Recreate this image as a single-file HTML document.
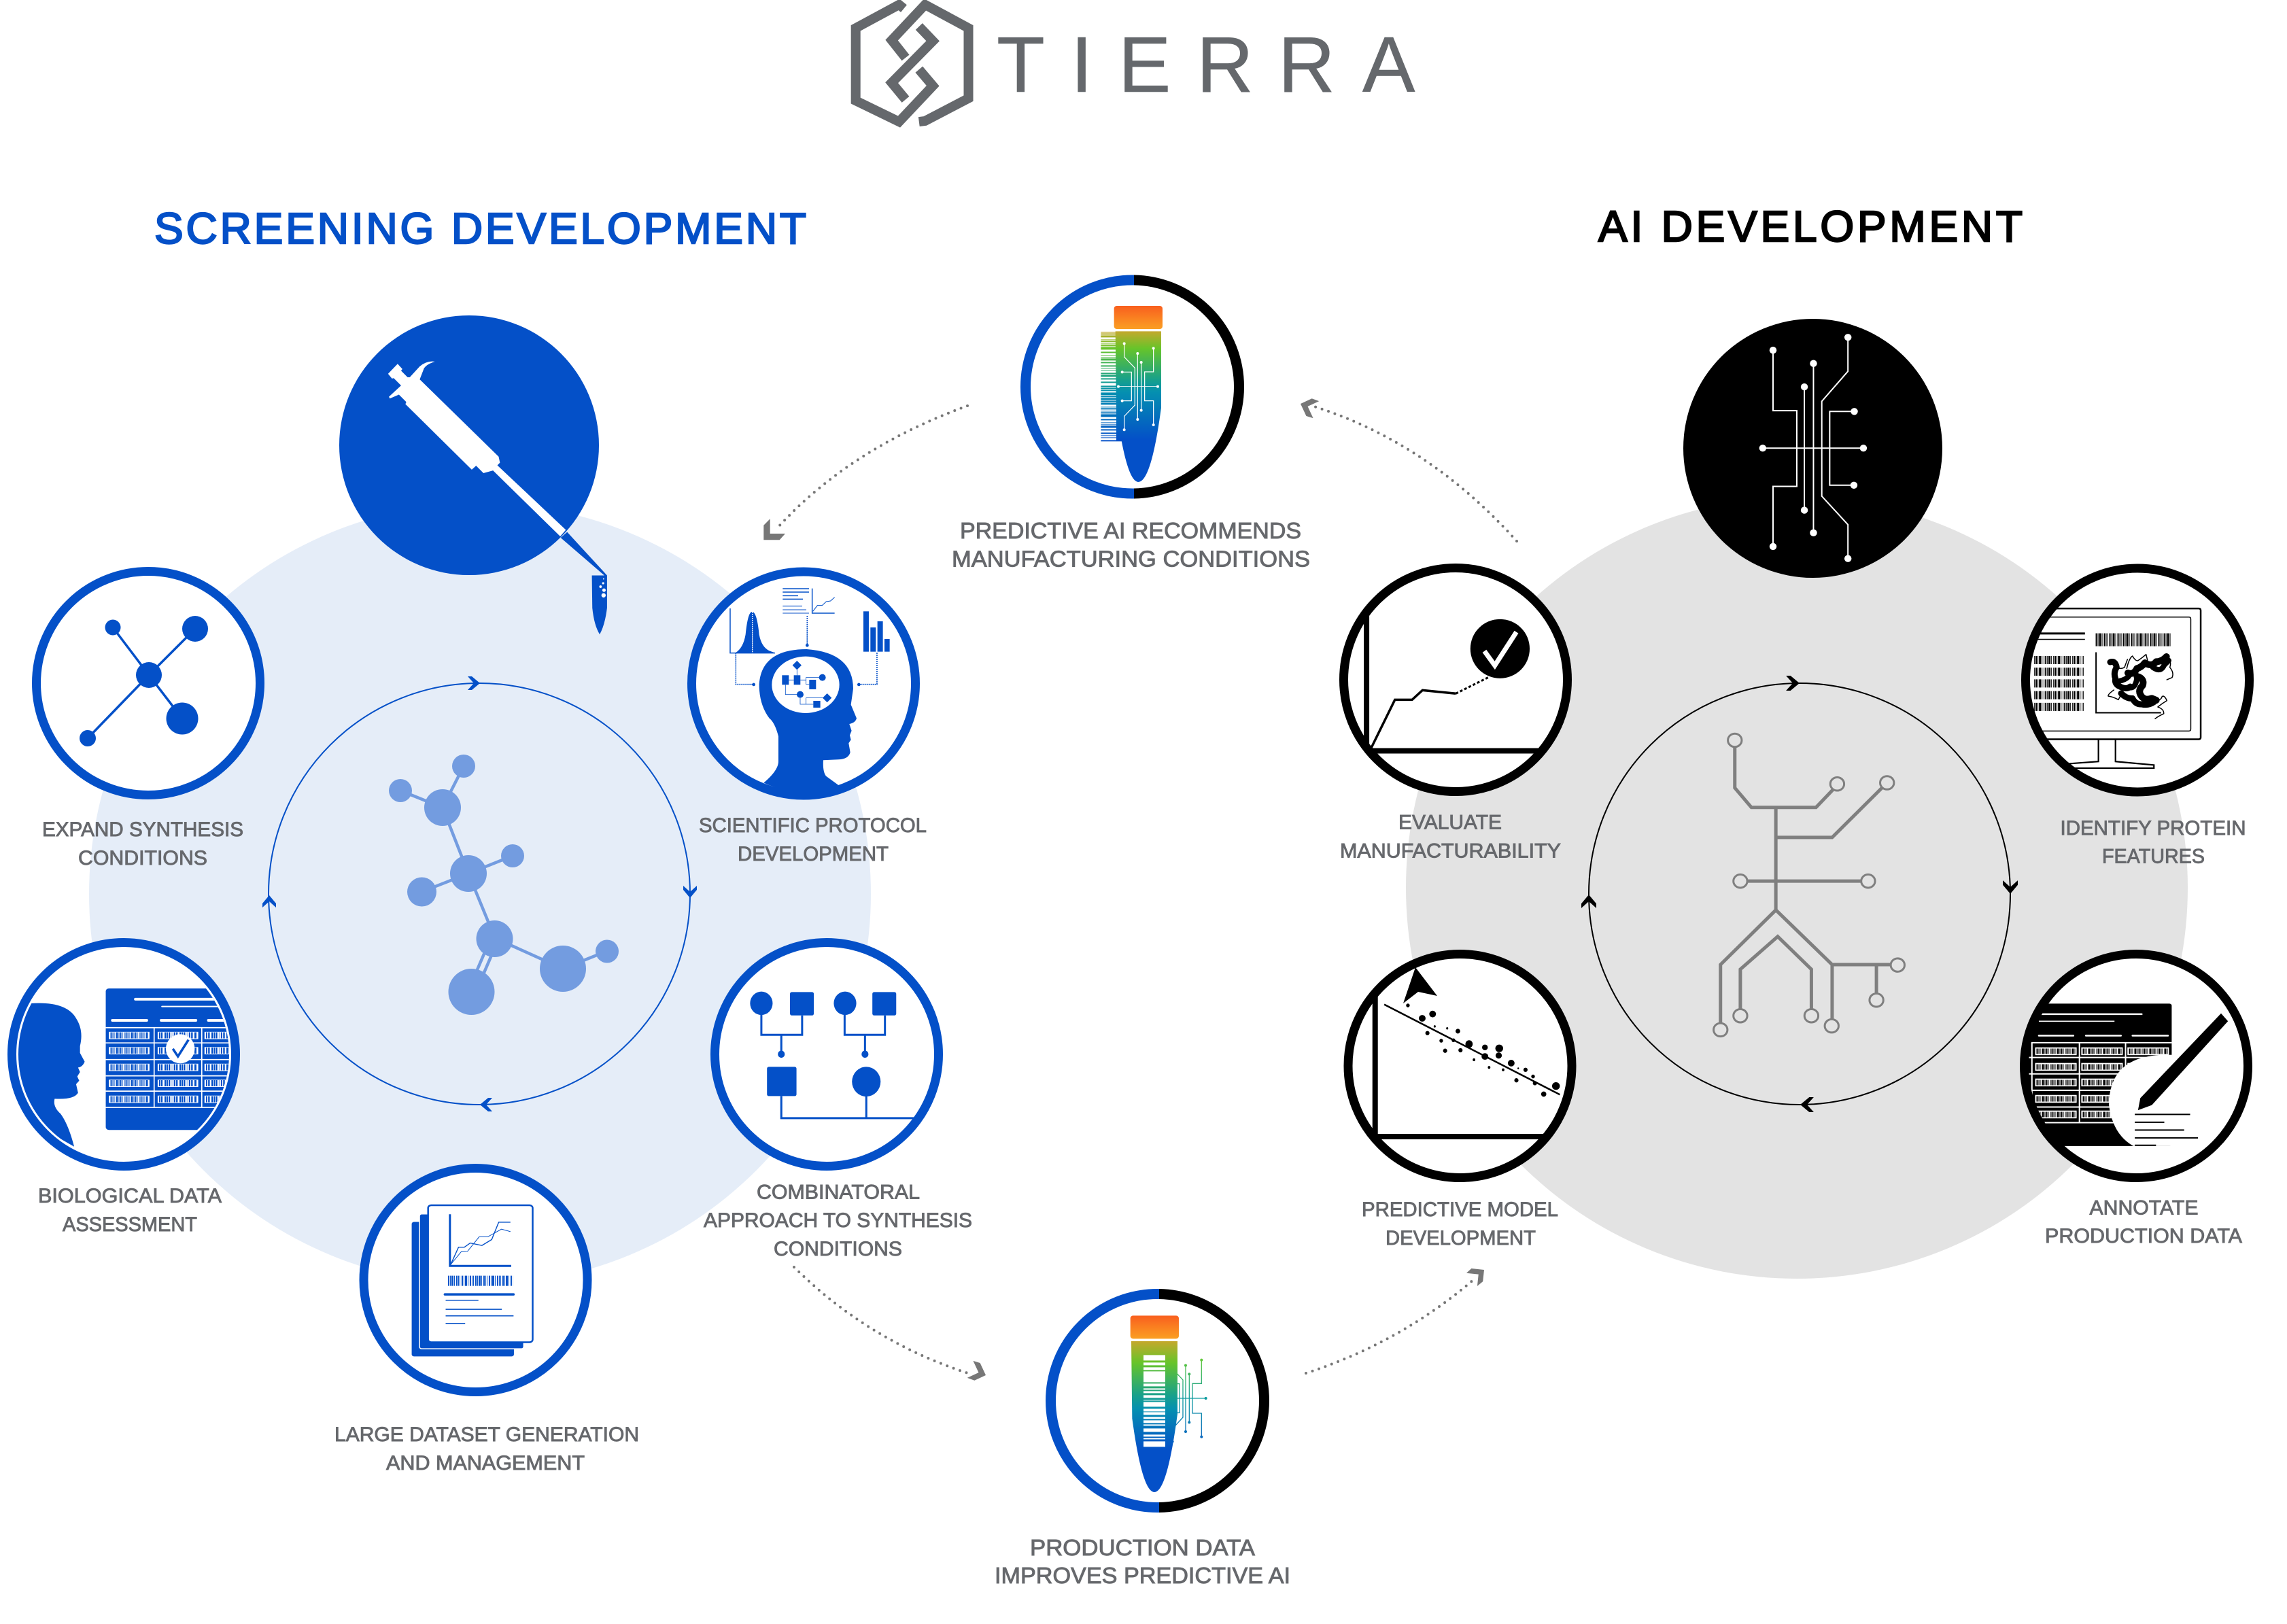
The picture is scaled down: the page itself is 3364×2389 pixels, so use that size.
<!DOCTYPE html>
<html><head><meta charset="utf-8"><title>Tierra</title>
<style>
html,body{margin:0;padding:0;background:#fff}
svg{display:block}
svg *{vector-effect:non-scaling-stroke}
text{font-family:"Liberation Sans",sans-serif}
.l{font-size:30px;fill:#66686c;stroke:#66686c;stroke-width:.9px}
.m{font-size:33px;fill:#66686c;stroke:#66686c;stroke-width:.9px}
.t{font-size:64px;stroke-width:2.4px}
</style></head><body>
<svg width="3364" height="2389" viewBox="0 0 3364 2389" xmlns="http://www.w3.org/2000/svg">
<defs>
<path id="ch" d="M-9,-10 L-3,-10 L9,0 L-3,10 L-9,10 L0,0 Z"/>
<path id="gh" d="M0,-21.6 L9.4,-31 L9.4,-9.3 L31.7,-9.3 L23.4,0 L0,0 Z"/>
<linearGradient id="cap" x1="0" y1="0" x2="0" y2="1"><stop offset="0" stop-color="#f95f1e"/><stop offset="1" stop-color="#fa9f23"/></linearGradient>
<linearGradient id="g1" gradientUnits="userSpaceOnUse" x1="0" y1="262" x2="0" y2="740"><stop offset="0" stop-color="#c4a82c"/><stop offset=".16" stop-color="#66c42a"/><stop offset=".45" stop-color="#17a08c"/><stop offset=".56" stop-color="#0590b0"/><stop offset="1" stop-color="#0450c8"/></linearGradient>
<linearGradient id="g2" gradientUnits="userSpaceOnUse" x1="0" y1="219" x2="0" y2="700"><stop offset="0" stop-color="#c4a82c"/><stop offset=".2" stop-color="#66c42a"/><stop offset=".5" stop-color="#17a08c"/><stop offset=".62" stop-color="#0590b0"/><stop offset="1" stop-color="#0450c8"/></linearGradient>
<linearGradient id="g3" gradientUnits="userSpaceOnUse" x1="0" y1="300" x2="0" y2="650"><stop offset="0" stop-color="#60c838"/><stop offset=".5" stop-color="#0a9aa0"/><stop offset="1" stop-color="#0a66c0"/></linearGradient>
<clipPath id="cBio"><circle cx="182" cy="1551" r="155"/></clipPath>
<clipPath id="cId"><circle cx="3144" cy="1000.5" r="160"/></clipPath>
<clipPath id="cAn"><circle cx="3142" cy="1568" r="160"/></clipPath>
<clipPath id="cCom"><circle cx="1216" cy="1551" r="160"/></clipPath>
<clipPath id="cEv"><circle cx="2141" cy="1000" r="162"/></clipPath>
<clipPath id="cPr"><circle cx="2147.5" cy="1568" r="162"/></clipPath>
<clipPath id="tL"><rect x="1480" y="390" width="188" height="360"/></clipPath>
<clipPath id="tR"><rect x="1668" y="390" width="188" height="360"/></clipPath>
<clipPath id="bL"><rect x="1520" y="1880" width="185" height="360"/></clipPath>
<clipPath id="bR"><rect x="1705" y="1880" width="185" height="360"/></clipPath>
<g id="bc"><rect width="104" height="21" fill="#fff"/><line x1="4" x2="100" y1="10.5" y2="10.5" stroke="#0450c8" stroke-width="9" shape-rendering="crispEdges" stroke-dasharray="2 1 1 1 1 2 3 1 1 1 2 1 1 2 1 1"/></g>
<g id="bk"><rect width="90" height="20" fill="#fff"/><line x1="3" x2="87" y1="10" y2="10" stroke="#000" stroke-width="8" shape-rendering="crispEdges" stroke-dasharray="2 1 1 1 1 2 3 1 1 1 2 1 1 2 1 1"/></g>
</defs>

<!-- backgrounds -->
<circle cx="706" cy="1315" r="575" fill="#e5edf8"/>
<circle cx="2643" cy="1306" r="575" fill="#e3e3e3"/>

<!-- logo -->
<g transform="translate(1200,0) scale(.6378,.574)" fill="none" stroke="#65686c" stroke-width="14" stroke-linejoin="miter">
<path d="M203,22 L192,12 L92,72 L92,258 L192,312 L270,220 L238,178"/>
<path d="M238,312 L252,310 L352,252 L352,72 L252,12 L175,103 L207,148"/>
<path d="M238,68 L270,105 L175,212 L207,255"/>
</g>
<text x="1466 1575 1645 1760 1880 2004" y="135" font-size="116" fill="#65686c" stroke="#65686c" stroke-width=".6">TIERRA</text>

<!-- titles -->
<text class="t" x="227" y="358" textLength="959" lengthAdjust="spacing" fill="#0450c8" stroke="#0450c8">SCREENING DEVELOPMENT</text>
<text class="t" x="2351" y="355" textLength="624" lengthAdjust="spacing" fill="#000" stroke="#000">AI DEVELOPMENT</text>

<!-- inner rings -->
<circle cx="705" cy="1315" r="310" fill="none" stroke="#0450c8" stroke-width="2"/>
<circle cx="2647" cy="1315" r="310" fill="none" stroke="#000" stroke-width="2"/>
<g fill="#0450c8">
<use href="#ch" transform="translate(697,1005)"/>
<use href="#ch" transform="translate(1015,1312) rotate(90)"/>
<use href="#ch" transform="translate(396,1326) rotate(-90)"/>
<use href="#ch" transform="translate(715,1625) rotate(180)"/>
</g>
<g fill="#000">
<use href="#ch" transform="translate(2637,1005) scale(1.1)"/>
<use href="#ch" transform="translate(2957,1305) rotate(90) scale(1.1)"/>
<use href="#ch" transform="translate(2337,1326) rotate(-90) scale(1.1)"/>
<use href="#ch" transform="translate(2658,1625) rotate(180) scale(1.1)"/>
</g>

<!-- big molecule -->
<g stroke="#739ce0" stroke-width="4.5" fill="#739ce0">
<path d="M682,1127 L651,1188 M589,1163 L651,1188 M651,1188 L689,1285 L754,1259 M689,1285 L620,1312 M689,1285 L728,1380 L828,1425 L893,1399" fill="none"/>
<path d="M722,1380 L688,1459 M733,1382 L699,1461" fill="none"/>
<g stroke="none">
<circle cx="682" cy="1127" r="17"/><circle cx="589" cy="1163" r="17"/><circle cx="651" cy="1188" r="27"/>
<circle cx="754" cy="1259" r="17"/><circle cx="689" cy="1285" r="27"/><circle cx="620.5" cy="1312" r="21.5"/>
<circle cx="727.5" cy="1381" r="27"/><circle cx="828" cy="1425" r="34"/><circle cx="693.5" cy="1459" r="34"/><circle cx="893" cy="1399.5" r="17"/>
</g></g>

<!-- tree -->
<g transform="translate(2300,1000) scale(.6786,.574)" fill="none" stroke="#7f7f7f" stroke-width="5">
<path d="M371,170 L371,277 L407,327 L547,327 L585,280"/>
<path d="M460,327 L460,590"/>
<path d="M460,404 L582,404 L690,277"/>
<path d="M398,516 L645,516"/>
<path d="M340,880 L340,730 L460,590 L582,730 L582,870"/>
<path d="M582,730 L708,730 M678,730 L678,805"/>
<path d="M383,845 L383,742 L464,658 L537,742 L537,845"/>
<g fill="#e3e3e3" stroke-width="3">
<ellipse cx="371" cy="155" rx="15" ry="17"/><ellipse cx="593" cy="267" rx="15" ry="17"/><ellipse cx="701" cy="264" rx="15" ry="17"/>
<ellipse cx="383" cy="516" rx="15" ry="17"/><ellipse cx="660" cy="516" rx="15" ry="17"/><ellipse cx="340" cy="897" rx="15" ry="17"/>
<ellipse cx="581" cy="887" rx="15" ry="17"/><ellipse cx="724" cy="731" rx="15" ry="17"/><ellipse cx="678" cy="821" rx="15" ry="17"/>
<ellipse cx="383" cy="861" rx="15" ry="17"/><ellipse cx="537" cy="861" rx="15" ry="17"/>
</g></g>

<!-- pipette -->
<circle cx="690" cy="655" r="191" fill="#0450c8"/>
<g transform="translate(0,400) scale(.6378)">
<path fill="#fff" d="M895,235 L917,212 L928,224 L925,228 L940,243 L945,243 L968,218 Q985,204 1003,207 Q985,212 978,222 L968,248 L1150,426 L1153,440 L1147,446 L1305,595 L1292,610 L1137,458 L1115,464 L1098,447 L1088,456 L935,305 L937,300 L920,283 L899,292 L897,288 L925,262 L908,245 L904,246 Z"/>
<path fill="#0450c8" d="M1293,613 L1308,600 L1400,700 L1396,702 Z"/>
<path fill="#0450c8" d="M1365,700 L1400,700 L1400,775 Q1395,815 1383,836 Q1370,815 1366,775 Z"/>
<g fill="#fff"><circle cx="1392" cy="746" r="5"/><circle cx="1393" cy="734" r="4"/><circle cx="1385" cy="726" r="3"/><circle cx="1391" cy="718" r="2.5"/><circle cx="1392" cy="708" r="1.5"/></g>
</g>

<!-- expand -->
<circle cx="218" cy="1005" r="164.5" fill="#fff" stroke="#0450c8" stroke-width="13"/>
<g stroke="#0450c8" stroke-width="3.5" fill="#0450c8">
<path d="M166,923 L219,993 L268,1057 M287,925 L219,993 L129,1086" fill="none"/>
<g stroke="none"><circle cx="219" cy="993" r="19"/><circle cx="166" cy="923" r="11.5"/><circle cx="287" cy="925" r="19"/><circle cx="268" cy="1057" r="23.5"/><circle cx="129" cy="1086" r="12"/></g>
</g>

<!-- scientific -->
<circle cx="1182" cy="1005.5" r="164.5" fill="#fff" stroke="#0450c8" stroke-width="13"/>
<g transform="translate(950,800) scale(.3333)" fill="#0450c8" stroke="none">
<path d="M372,285 L372,482 L570,482" fill="none" stroke="#0450c8" stroke-width="1.5"/>
<path d="M395,481 Q430,460 440,400 Q450,300 469,300 Q490,300 500,400 Q510,455 545,472 L570,481 Z"/>
<line x1="470" y1="300" x2="470" y2="482" stroke="#fff" stroke-width="1.3" stroke-dasharray="2 1"/>
<path d="M604,198 H720 M604,213 H720 M604,229 H672 M604,244 H693" stroke="#0450c8" stroke-width="1.5"/>
<path d="M604,275 H690 M604,291 H708 M604,306 H720" stroke="#739ce0" stroke-width="1.8"/>
<path d="M734,197 L734,306 L833,306" fill="none" stroke="#0450c8" stroke-width="1.5"/>
<path d="M737,298 L757,272 L778,272 L796,255 L815,252 L833,236" fill="none" stroke="#0450c8" stroke-width="1"/>
<rect x="960" y="298" width="24" height="178"/><rect x="991" y="369" width="24" height="107"/><rect x="1022" y="342" width="24" height="134"/><rect x="1053" y="420" width="23" height="56"/>
<g fill="none" stroke="#0450c8" stroke-width="1.6" stroke-dasharray="2 1">
<path d="M712,318 V448"/><path d="M397,482 V620 H476"/><path d="M1020,480 V620 H940"/>
</g>
<circle cx="712" cy="448" r="7"/><circle cx="476" cy="621" r="7"/><circle cx="940" cy="621" r="7"/>
<path d="M520,1055 Q585,1000 585,960 L585,850 Q570,790 545,770 Q500,710 500,620 Q510,465 710,465 Q915,480 915,640 L905,710 L930,770 Q925,790 898,795 L908,825 L900,845 L905,865 L895,880 L902,920 Q895,950 850,952 L783,955 Q780,1005 795,1025 L850,1065 Q700,1135 520,1055 Z"/>
<ellipse cx="705" cy="622" rx="149" ry="125" fill="#fff"/>
<rect x="601" y="580" width="30" height="42"/><rect x="653" y="580" width="29" height="42"/><rect x="721" y="600" width="30" height="42"/>
<circle cx="779" cy="590" r="15"/><circle cx="681" cy="665" r="15"/><rect x="739" y="693" width="31" height="30"/>
<path d="M667,516 L687,536 L667,556 L647,536 Z M800,660 L820,680 L800,700 L780,680 Z"/>
<path d="M667,556 V580 M631,601 H653 M682,601 H707 V590 H765 M707,601 V620 H721 M616,622 V665 H667 M681,680 V708 H739 M707,708 V680 H780" fill="none" stroke="#0450c8" stroke-width=".8"/>
</g>

<!-- combinatorial -->
<circle cx="1216" cy="1551" r="164.5" fill="#fff"/>
<g clip-path="url(#cCom)"><g transform="translate(1000,1350) scale(.6378,.6626)" fill="#0450c8">
<g fill="none" stroke="#0450c8" stroke-width="3">
<path d="M188,215 V260 H282 V217 M234,260 V303 M380,215 V260 H473 V217 M427,260 V303 M234,396 V445 H600 M430,396 V445"/>
</g>
<ellipse cx="188" cy="190" rx="26" ry="26"/><rect x="254" y="165" width="55" height="52" rx="4"/><ellipse cx="381" cy="190" rx="26" ry="26"/><rect x="444" y="165" width="55" height="52" rx="4"/>
<ellipse cx="234" cy="303" rx="8" ry="8"/><ellipse cx="427" cy="303" rx="8" ry="8"/>
<rect x="201" y="331" width="68" height="65" rx="4"/><ellipse cx="430" cy="364" rx="33" ry="33"/>
</g></g>
<circle cx="1216" cy="1551" r="164.5" fill="none" stroke="#0450c8" stroke-width="13"/>

<!-- biological -->
<circle cx="182" cy="1551" r="164.5" fill="#fff"/>
<g clip-path="url(#cBio)"><g transform="translate(0,1350) scale(.574,.5102)">
<rect x="271" y="204" width="340" height="408" rx="8" fill="#0450c8"/>
<path d="M347,235 H570" stroke="#fff" stroke-width="4" stroke-linecap="round"/>
<path d="M415,256 H570" stroke="#fff" stroke-width="2" stroke-linecap="round"/>
<path d="M288,296 H376 M413,296 H502 M534,296 H600" stroke="#fff" stroke-width="4" stroke-linecap="round"/>
<path d="M271,317 H610 M271,361 H610 M271,409 H610 M271,456 H610 M271,500 H610 M271,547 H610 M395,317 V547 M517,317 V547" stroke="#fff" stroke-width="1.7"/>
<use href="#bc" x="279" y="329"/><use href="#bc" x="404" y="329"/><use href="#bc" x="524" y="329"/>
<use href="#bc" x="279" y="373"/><use href="#bc" x="404" y="373"/><use href="#bc" x="524" y="373"/>
<use href="#bc" x="279" y="421"/><use href="#bc" x="404" y="421"/><use href="#bc" x="524" y="421"/>
<use href="#bc" x="279" y="467"/><use href="#bc" x="404" y="467"/><use href="#bc" x="524" y="467"/>
<use href="#bc" x="279" y="513"/><use href="#bc" x="404" y="513"/><use href="#bc" x="524" y="513"/>
<ellipse cx="462" cy="378" rx="37" ry="42" fill="#fff"/>
<path d="M443,378 L456,400 L483,352" fill="none" stroke="#0450c8" stroke-width="3.5"/>
<path fill="#0450c8" d="M78,247 Q170,240 195,290 Q215,325 205,370 L205,390 L217,415 Q212,430 200,432 L205,445 L198,458 L203,470 L195,480 L200,505 Q190,525 140,522 Q135,545 155,565 Q175,595 190,660 L140,628 L20,500 L20,300 Z"/>
</g></g>
<circle cx="182" cy="1551" r="164.5" fill="none" stroke="#0450c8" stroke-width="13"/>

<!-- dataset -->
<circle cx="699.5" cy="1883" r="164.5" fill="#fff" stroke="#0450c8" stroke-width="13"/>
<g transform="translate(0,1350) scale(.574,.5102)">
<rect x="1055" y="877" width="262" height="388" rx="6" fill="#0450c8"/>
<rect x="1075" y="854" width="267" height="389" rx="6" fill="#0450c8" stroke="#fff" stroke-width="1.5"/>
<rect x="1097" y="829" width="268" height="395" rx="8" fill="#fff" stroke="#0450c8" stroke-width="2.5"/>
<path d="M1153,855 V1004 H1310" fill="none" stroke="#0450c8" stroke-width="3"/>
<path d="M1155,1000 L1175,950 L1190,950 L1205,938 L1235,945 L1260,928 L1278,878 L1308,878" fill="none" stroke="#0450c8" stroke-width="1.4"/>
<path d="M1155,1000 L1182,963 L1198,962 L1228,920 L1250,920 L1285,898 L1308,905" fill="none" stroke="#0450c8" stroke-width="1"/>
<line x1="1148" x2="1314" y1="1047" y2="1047" stroke="#0450c8" stroke-width="15" stroke-dasharray="2 1 1 1 3 1 1 2 2 1 1 1 1 2"/>
<path d="M1140,1086 H1316" stroke="#0450c8" stroke-width="3.5" stroke-linecap="round"/>
<path d="M1142,1103 H1226 M1142,1129 H1286 M1142,1148 H1316 M1142,1170 H1192" stroke="#0450c8" stroke-width="1.6"/>
</g>

<!-- top tube -->
<circle cx="1665.5" cy="569" r="157" fill="none" stroke="#0450c8" stroke-width="15" clip-path="url(#tL)"/>
<circle cx="1665.5" cy="569" r="157" fill="none" stroke="#000" stroke-width="15" clip-path="url(#tR)"/>
<g transform="translate(1480,400) scale(.3333)">
<rect x="476" y="150" width="214" height="102" rx="12" fill="url(#cap)"/>
<rect x="418" y="264" width="94" height="484" fill="url(#g1)"/>
<line x1="450" x2="450" y1="268" y2="748" stroke="#fff" stroke-width="24" stroke-dasharray="1 2 1 3 3 1 1 2 2 1 1 2 1 4 3 2 3 1 2 1 1 3 2 2 3 2 2 1 2 1 3 2 1 3 2 2 3 2 4 2 1 2 1 2 2 4 1 2 1 3"/>
<path d="M482,262 L684,262 L684,600 Q640,927 583,927 Q530,927 486,600 Z" fill="url(#g1)"/>
<g fill="none" stroke="#fff" stroke-width="1.2">
<path d="M521,316 V375 L568,424 V588 L521,637 V697"/><path d="M580,360 V651"/><path d="M596,399 V611"/>
<path d="M650,337 V441 H611 V569 H650 V675"/><path d="M512,442 H553 V569 H512"/><path d="M495,506 H669" stroke-width=".8"/>
</g>
<g fill="#fff"><circle cx="521" cy="316" r="6"/><circle cx="521" cy="697" r="6"/><circle cx="580" cy="360" r="6"/><circle cx="580" cy="651" r="6"/><circle cx="596" cy="399" r="6"/><circle cx="596" cy="611" r="6"/><circle cx="650" cy="337" r="6"/><circle cx="650" cy="675" r="6"/><circle cx="512" cy="442" r="6"/><circle cx="512" cy="569" r="6"/><circle cx="495" cy="506" r="6"/><circle cx="669" cy="506" r="6"/></g>
</g>

<!-- bottom tube -->
<circle cx="1702.5" cy="2060.5" r="157" fill="none" stroke="#0450c8" stroke-width="15" clip-path="url(#bL)"/>
<circle cx="1702.5" cy="2060.5" r="157" fill="none" stroke="#000" stroke-width="15" clip-path="url(#bR)"/>
<g transform="translate(1530,1900) scale(.3333)">
<rect x="398" y="106" width="214" height="102" rx="12" fill="url(#cap)"/>
<g fill="none" stroke="url(#g3)" stroke-width="1.3">
<path d="M604,362 L630,390 V555 L596,592"/><path d="M604,407 H615 V535 H604"/><path d="M642,326 V618"/><path d="M658,364 V577"/>
<path d="M712,302 V406 H672 V537 H712 V641"/><path d="M604,471 H731"/>
</g>
<g fill="url(#g3)"><circle cx="642" cy="326" r="6"/><circle cx="642" cy="618" r="6"/><circle cx="658" cy="364" r="6"/><circle cx="658" cy="577" r="6"/><circle cx="712" cy="302" r="6"/><circle cx="712" cy="641" r="6"/><circle cx="731" cy="471" r="6"/><circle cx="585" cy="662" r="5"/></g>
<path d="M402,219 L606,219 L606,540 Q560,885 504,885 Q450,885 406,560 Z" fill="url(#g2)"/>
<line x1="504" x2="504" y1="280" y2="690" stroke="#fff" stroke-width="32" stroke-dasharray="8 3 4 3 4 2 16 2 4 3 2 2 3 3 4 3 1 2 7 3 4 1 4 3 3 2 4 2 2 4 5 4 3 2 2 3 8 2 4 5 5 2 2 2"/>
</g>

<!-- ai circle -->
<circle cx="2666.5" cy="659.5" r="190.5" fill="#000"/>
<g transform="translate(2450,440) scale(.583,.574)">
<g fill="none" stroke="#fff" stroke-width="2">
<path d="M271,131 V286 H331 V480 H271 V634"/><path d="M350,225 V541"/><path d="M373,165 V599"/>
<path d="M460,98 V185 L394,262 V505 L460,578 V665"/><path d="M476,288 H414 V477 H475"/><path d="M245,382 H499"/>
</g>
<g fill="#fff"><ellipse cx="271" cy="131" rx="9" ry="9"/><ellipse cx="271" cy="634" rx="9" ry="9"/><ellipse cx="350" cy="225" rx="9" ry="9"/><ellipse cx="350" cy="541" rx="9" ry="9"/><ellipse cx="373" cy="165" rx="9" ry="9"/><ellipse cx="373" cy="599" rx="9" ry="9"/><ellipse cx="460" cy="98" rx="9" ry="9"/><ellipse cx="460" cy="665" rx="9" ry="9"/><ellipse cx="476" cy="288" rx="9" ry="9"/><ellipse cx="475" cy="477" rx="9" ry="9"/><ellipse cx="245" cy="382" rx="9" ry="9"/><ellipse cx="499" cy="382" rx="9" ry="9"/></g>
</g>

<!-- identify -->
<circle cx="3144" cy="1000.5" r="163" fill="#fff"/>
<g clip-path="url(#cId)"><g transform="translate(2450,440) scale(.583,.574)" fill="none" stroke="#000">
<path d="M880,793 H1345 Q1350,793 1350,798 V1123 Q1350,1128 1345,1128 H880" stroke-width="2.5"/>
<path d="M880,815 H1320 Q1325,815 1325,820 V1102 Q1325,1107 1320,1107 H880" stroke-width="1.5"/>
<path d="M930,857 H1058" stroke-width="3"/><path d="M930,872 H1058" stroke-width="1.5"/>
<g stroke-width="12" stroke-dasharray="1 1 2 1 1 1 3 1 1 2">
<line x1="930" x2="1055" y1="925" y2="925"/><line x1="930" x2="1055" y1="955" y2="955"/><line x1="930" x2="1055" y1="985" y2="985"/><line x1="930" x2="1055" y1="1015" y2="1015"/><line x1="930" x2="1055" y1="1045" y2="1045"/>
</g>
<line x1="1085" x2="1275" y1="873" y2="873" stroke-width="19" stroke-dasharray="2 1 1 1 3 1 1 2 2 1 1 1 1 2"/>
<path d="M1086,905 V1060 H1250" stroke-width="2"/>
<path d="M1092,1128 V1185 L1000,1192 M1135,1128 V1185 L1232,1194 V1202 H1000" stroke-width="2.2"/>
</g>
<g transform="translate(3100,940) scale(.3333)" fill="none" stroke="#000" stroke-linecap="round" stroke-linejoin="round">
<path stroke-width="9" d="M12,102 Q35,95 40,125 Q25,150 35,175 Q30,200 55,210 Q85,225 100,210"/>
<path stroke-width="10" d="M90,150 Q115,160 130,130 Q150,125 165,105 Q195,125 215,100 Q240,100 260,78"/>
<path stroke-width="10" d="M130,165 Q165,175 155,205 Q135,225 145,245 Q160,275 195,262 L215,270"/>
<path stroke-width="9" d="M60,240 Q85,265 110,262 Q125,290 150,288 Q180,295 205,278"/>
<path stroke-width="8" d="M200,125 Q235,150 250,115 L270,95"/>
<path stroke-width="8" d="M55,185 Q95,175 100,150 M100,215 Q125,215 130,170"/>
<path stroke-width="1.5" d="M85,130 Q95,85 110,75 Q125,100 135,95 Q150,85 170,68 L178,100 M260,75 Q285,95 275,125 Q295,150 285,170 L262,180 M40,125 Q60,135 75,125 L88,90 M28,225 Q0,245 3,252 Q25,255 48,268 L62,240 M212,275 Q238,268 240,255 Q250,245 262,272 Q240,285 222,300 Q250,310 248,330 Q225,340 210,352"/>
</g></g>
<circle cx="3144" cy="1000.5" r="164.5" fill="none" stroke="#000" stroke-width="13"/>

<!-- annotate -->
<circle cx="3142" cy="1568" r="163" fill="#fff"/>
<g clip-path="url(#cAn)"><g transform="translate(2300,1000) scale(.6786,.574)">
<rect x="980" y="830" width="338" height="365" rx="5" fill="#000"/>
<path d="M1028,857 H1253" stroke="#fff" stroke-width="2.5" stroke-linecap="round"/>
<path d="M1030,875 H1194" stroke="#fff" stroke-width="1.5"/>
<path d="M1030,912 H1105 M1132,912 H1208 M1233,912 H1310" stroke="#fff" stroke-width="2.5" stroke-linecap="round"/>
<path d="M980,930 H1318 M980,968 H1318 M980,1010 H1318 M980,1052 H1318 M980,1095 H1318 M980,1135 H1318 M1015,930 V1135 M1118,930 V1135 M1218,930 V1135" stroke="#fff" stroke-width="2"/>
<use href="#bk" x="1022" y="942"/><use href="#bk" x="1122" y="942"/><use href="#bk" x="1222" y="942"/>
<use href="#bk" x="1022" y="982"/><use href="#bk" x="1122" y="982"/><use href="#bk" x="1222" y="982"/>
<use href="#bk" x="1022" y="1022"/><use href="#bk" x="1122" y="1022"/><use href="#bk" x="1222" y="1022"/>
<use href="#bk" x="1022" y="1064"/><use href="#bk" x="1122" y="1064"/><use href="#bk" x="1222" y="1064"/>
<use href="#bk" x="1022" y="1104"/><use href="#bk" x="1122" y="1104"/><use href="#bk" x="1222" y="1104"/>
<path d="M1330,962 Q1182,950 1182,1090 Q1190,1165 1235,1195 L1420,1195 L1500,1100 L1500,830 L1318,830 Z" fill="#fff"/>
<path d="M1245,1103 L1250,1072 L1425,855 L1440,875 L1275,1090 Z" fill="#000"/>
<path d="M1238,1114 H1358 M1238,1134 H1302 M1238,1154 H1345 M1238,1174 H1375 M1238,1193 H1284" stroke="#000" stroke-width="2"/>
</g></g>
<circle cx="3142" cy="1568" r="164.5" fill="none" stroke="#000" stroke-width="13"/>

<!-- evaluate -->
<circle cx="2141" cy="1000" r="163" fill="#fff"/>
<g clip-path="url(#cEv)"><g transform="translate(1950,800) scale(.3827,.7015)">
<path d="M157,100 V434 H880" fill="none" stroke="#000" stroke-width="8"/>
<path d="M175,428 L266,327 L332,327 L372,307 L500,314" fill="none" stroke="#000" stroke-width="3.5"/>
<path d="M500,314 L625,280" fill="none" stroke="#000" stroke-width="3" stroke-dasharray="4 3"/>
<ellipse cx="670" cy="220" rx="114" ry="62" fill="#000"/>
<path d="M610,225 L650,255 L733,185" fill="none" stroke="#fff" stroke-width="7"/>
</g></g>
<circle cx="2141" cy="1000" r="164.5" fill="none" stroke="#000" stroke-width="13"/>

<!-- predictive -->
<circle cx="2147.5" cy="1568" r="163" fill="#fff"/>
<g clip-path="url(#cPr)"><g transform="translate(1950,800) scale(.3827,.7015)">
<path d="M190,900 V1243 H900" fill="none" stroke="#000" stroke-width="8"/>
<path d="M225,966 L900,1155" stroke="#000" stroke-width="2.5"/>
<g fill="#000">
<ellipse cx="316" cy="968" rx="7" ry="4"/><ellipse cx="371" cy="995" rx="13" ry="7"/><ellipse cx="411" cy="986" rx="13" ry="7"/><ellipse cx="391" cy="1026" rx="8" ry="4.5"/><ellipse cx="419" cy="1012" rx="4" ry="2.5"/><ellipse cx="444" cy="1042" rx="7" ry="4"/><ellipse cx="467" cy="1016" rx="4" ry="2.5"/><ellipse cx="491" cy="1041" rx="7" ry="4"/><ellipse cx="508" cy="1022" rx="9" ry="5"/><ellipse cx="459" cy="1063" rx="8" ry="4.5"/><ellipse cx="518" cy="1062" rx="8" ry="4.5"/><ellipse cx="551" cy="1049" rx="14" ry="8"/><ellipse cx="570" cy="1082" rx="5" ry="3"/><ellipse cx="612" cy="1056" rx="11" ry="6"/><ellipse cx="612" cy="1075" rx="13" ry="7"/><ellipse cx="628" cy="1098" rx="5" ry="3"/><ellipse cx="667" cy="1058" rx="15" ry="8"/><ellipse cx="665" cy="1073" rx="12" ry="6.5"/><ellipse cx="682" cy="1103" rx="5" ry="3"/><ellipse cx="713" cy="1089" rx="13" ry="7"/><ellipse cx="740" cy="1100" rx="3" ry="2"/><ellipse cx="768" cy="1103" rx="8" ry="4.5"/><ellipse cx="797" cy="1117" rx="7" ry="4"/><ellipse cx="733" cy="1125" rx="8" ry="4.5"/><ellipse cx="804" cy="1131" rx="8" ry="4.5"/><ellipse cx="838" cy="1154" rx="10" ry="5.5"/><ellipse cx="885" cy="1137" rx="15" ry="8"/>
</g>
</g></g>
<circle cx="2147.5" cy="1568" r="164.5" fill="none" stroke="#000" stroke-width="13"/>
<path d="M2082,1423 L2114,1465 L2086,1459 L2064,1476 Z" fill="#000"/>

<!-- dotted connectors -->
<g fill="none" stroke="#777" stroke-width="4" stroke-linecap="round" stroke-dasharray="0 10">
<path d="M1423,597 Q1250,660 1145,775"/>
<path d="M2231,796 Q2100,650 1930,597"/>
<path d="M1168,1864 Q1280,1975 1430,2022"/>
<path d="M1921,2020 Q2060,1975 2168,1882"/>
</g>
<g fill="#777">
<use href="#gh" transform="translate(1123.3,794.3)"/>
<use href="#gh" transform="translate(1913,594) rotate(65) scale(.85)"/>
<use href="#gh" transform="translate(1450,2023) rotate(-115) scale(.85)"/>
<use href="#gh" transform="translate(2183,1868) rotate(-174) scale(.8)"/>
</g>

<!-- labels -->
<g>
<text class="m" x="1412" y="792" textLength="502" lengthAdjust="spacingAndGlyphs">PREDICTIVE AI RECOMMENDS</text>
<text class="m" x="1400" y="833.5" textLength="527" lengthAdjust="spacingAndGlyphs">MANUFACTURING CONDITIONS</text>
<text class="l" x="62" y="1230" textLength="296" lengthAdjust="spacingAndGlyphs">EXPAND SYNTHESIS</text>
<text class="l" x="115" y="1272" textLength="190" lengthAdjust="spacingAndGlyphs">CONDITIONS</text>
<text class="l" x="1028" y="1224" textLength="335" lengthAdjust="spacingAndGlyphs">SCIENTIFIC PROTOCOL</text>
<text class="l" x="1085" y="1266" textLength="222" lengthAdjust="spacingAndGlyphs">DEVELOPMENT</text>
<text class="l" x="56" y="1769" textLength="270" lengthAdjust="spacingAndGlyphs">BIOLOGICAL DATA</text>
<text class="l" x="92" y="1811" textLength="198" lengthAdjust="spacingAndGlyphs">ASSESSMENT</text>
<text class="l" x="492" y="2120" textLength="448" lengthAdjust="spacingAndGlyphs">LARGE DATASET GENERATION</text>
<text class="l" x="568" y="2162" textLength="292" lengthAdjust="spacingAndGlyphs">AND MANAGEMENT</text>
<text class="l" x="1113" y="1763.5" textLength="240" lengthAdjust="spacingAndGlyphs">COMBINATORAL</text>
<text class="l" x="1035" y="1805" textLength="395" lengthAdjust="spacingAndGlyphs">APPROACH TO SYNTHESIS</text>
<text class="l" x="1138" y="1847" textLength="189" lengthAdjust="spacingAndGlyphs">CONDITIONS</text>
<text class="m" x="1515" y="2288" textLength="331" lengthAdjust="spacingAndGlyphs">PRODUCTION DATA</text>
<text class="m" x="1463" y="2329" textLength="435" lengthAdjust="spacingAndGlyphs">IMPROVES PREDICTIVE AI</text>
<text class="l" x="2057" y="1219.5" textLength="152" lengthAdjust="spacingAndGlyphs">EVALUATE</text>
<text class="l" x="1971" y="1261.5" textLength="325" lengthAdjust="spacingAndGlyphs">MANUFACTURABILITY</text>
<text class="l" x="2003" y="1789" textLength="289" lengthAdjust="spacingAndGlyphs">PREDICTIVE MODEL</text>
<text class="l" x="2038" y="1831" textLength="221" lengthAdjust="spacingAndGlyphs">DEVELOPMENT</text>
<text class="l" x="3030.5" y="1228" textLength="273" lengthAdjust="spacingAndGlyphs">IDENTIFY PROTEIN</text>
<text class="l" x="3092" y="1269.5" textLength="151" lengthAdjust="spacingAndGlyphs">FEATURES</text>
<text class="l" x="3073.5" y="1786.5" textLength="160" lengthAdjust="spacingAndGlyphs">ANNOTATE</text>
<text class="l" x="3008" y="1828" textLength="290" lengthAdjust="spacingAndGlyphs">PRODUCTION DATA</text>
</g>
</svg>
</body></html>
